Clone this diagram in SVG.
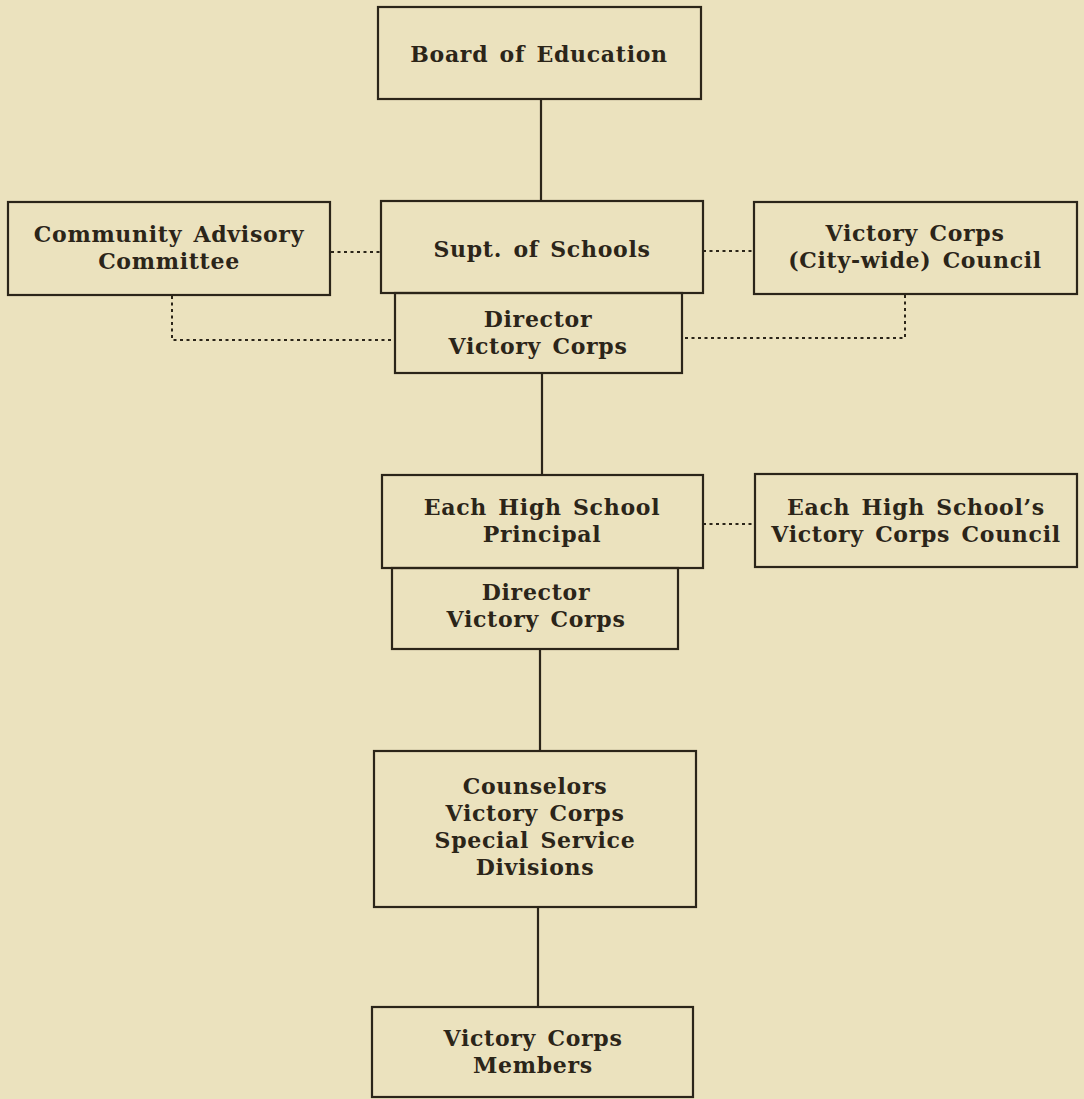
<svg xmlns="http://www.w3.org/2000/svg" width="1084" height="1099" viewBox="0 0 1084 1099">
<style>
.box{fill:none;stroke:#2b2519;stroke-width:2.2}
.t{font-family:"DejaVu Serif","Liberation Serif",serif;font-weight:bold;font-size:22px;letter-spacing:0.7px;word-spacing:3px;fill:#2b2519;text-anchor:middle}
.solid{stroke:#2b2519;stroke-width:2.2;fill:none}
.dot{stroke:#2b2519;stroke-width:2;fill:none;stroke-dasharray:3 3.5}
</style>
<rect width="1084" height="1099" fill="#EBE2BE"/>
<g id="connectors">
<line class="solid" x1="541" y1="99" x2="541" y2="201"/>
<line class="solid" x1="542" y1="373" x2="542" y2="475"/>
<line class="solid" x1="540" y1="649" x2="540" y2="751"/>
<line class="solid" x1="538" y1="907" x2="538" y2="1007"/>
<line class="dot" x1="331" y1="252" x2="381" y2="252"/>
<line class="dot" x1="703" y1="251" x2="754" y2="251"/>
<polyline class="dot" points="172,296 172,340 395,340"/>
<polyline class="dot" points="905,295 905,338 682,338"/>
<line class="dot" x1="703" y1="524" x2="755" y2="524"/>
</g>
<g id="board">
<rect class="box" x="378" y="7" width="323" height="92"/>
<text class="t" x="539" y="62">Board of Education</text>
</g>
<g id="supt">
<rect class="box" x="381" y="201" width="322" height="92"/>
<text class="t" x="542" y="257">Supt. of Schools</text>
</g>
<g id="director1">
<rect class="box" x="395" y="293" width="287" height="80"/>
<text class="t" x="538" y="327">Director</text>
<text class="t" x="538" y="354">Victory Corps</text>
</g>
<g id="community">
<rect class="box" x="8" y="202" width="322" height="93"/>
<text class="t" x="169" y="242">Community Advisory</text>
<text class="t" x="169" y="269">Committee</text>
</g>
<g id="citycouncil">
<rect class="box" x="754" y="202" width="323" height="92"/>
<text class="t" x="915" y="241">Victory Corps</text>
<text class="t" x="915" y="268">(City-wide) Council</text>
</g>
<g id="principal">
<rect class="box" x="382" y="475" width="321" height="93"/>
<text class="t" x="542" y="515">Each High School</text>
<text class="t" x="542" y="542">Principal</text>
</g>
<g id="director2">
<rect class="box" x="392" y="568" width="286" height="81"/>
<text class="t" x="536" y="600">Director</text>
<text class="t" x="536" y="627">Victory Corps</text>
</g>
<g id="schoolcouncil">
<rect class="box" x="755" y="474" width="322" height="93"/>
<text class="t" x="916" y="515">Each High School’s</text>
<text class="t" x="916" y="542">Victory Corps Council</text>
</g>
<g id="counselors">
<rect class="box" x="374" y="751" width="322" height="156"/>
<text class="t" x="535" y="794">Counselors</text>
<text class="t" x="535" y="821">Victory Corps</text>
<text class="t" x="535" y="848">Special Service</text>
<text class="t" x="535" y="875">Divisions</text>
</g>
<g id="members">
<rect class="box" x="372" y="1007" width="321" height="90"/>
<text class="t" x="533" y="1046">Victory Corps</text>
<text class="t" x="533" y="1073">Members</text>
</g>
</svg>
